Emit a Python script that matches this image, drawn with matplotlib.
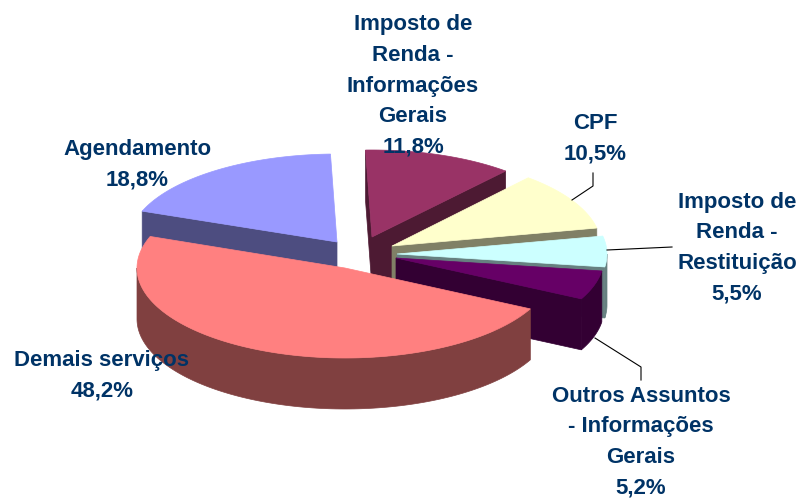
import matplotlib
matplotlib.use("Agg")
import matplotlib.pyplot as plt
import numpy as np

categories = ["Imposto de\nRenda -\nInformações\nGerais", "CPF", "Imposto de\nRenda -\nRestituição",
              "Outros Assuntos\n- Informações\nGerais", "Demais serviços", "Agendamento"]
values = [11.8, 10.5, 5.5, 5.2, 48.2, 18.8]
top_colors = ["#993366", "#FFFFCC", "#CCFFFF", "#660066", "#FF8080", "#9999FF"]
side_colors = ["#4D1A33", "#808066", "#668080", "#330033", "#804040", "#4D4D80"]

# each slice is pulled out on its own: apex x, apex y, rx, ry
slice_geom = [(372, 237, 205, 87), (392, 246, 209, 90), (397, 254, 210, 90),
              (396, 258, 208, 90), (345, 268, 208, 90), (337, 242, 208, 88)]
depth = 51
start_angle = -1.8
draw_order = [5, 0, 1, 2, 3, 4]

label_pos = [(413, 86), (595, 139), (737, 248), (641, 442), (102, 376), (137, 165)]
leaders = [([593, 593, 572], [173, 186, 200]), ([607, 672], [250, 247]), ([595, 641, 641], [338, 367, 380])]

plt.rcParams["font.family"] = ["Liberation Sans", "DejaVu Sans"]

fig = plt.figure(figsize=(8.02, 4.98), dpi=100)
ax = fig.add_axes([0, 0, 1, 1])
ax.set_xlim(0, 802)
ax.set_ylim(498, 0)
ax.axis("off")

edges = start_angle + np.cumsum([0] + values) * 3.6


def rim_xy(geom, deg):
    cx, cy, rx, ry = geom
    t = np.radians(deg)
    return cx + rx * np.sin(t), cy - ry * np.cos(t)


for n, i in enumerate(draw_order):
    geom = slice_geom[i]
    a0, a1 = edges[i], edges[i + 1]
    cx, cy = geom[0], geom[1]

    # outer wall, only the part that faces the viewer
    lo, hi = max(a0, 90), min(a1, 270)
    if hi > lo:
        x, y = rim_xy(geom, np.linspace(lo, hi, 120))
        ax.fill(np.r_[x, x[::-1]], np.r_[y, (y + depth)[::-1]], color=side_colors[i], lw=0.5, zorder=n)

    # cut faces
    for a, sign in ((a0, -1), (a1, 1)):
        if sign * np.sin(np.radians(a)) > 0:
            x, y = rim_xy(geom, a)
            ax.fill([cx, x, x, cx], [cy, y, y + depth, cy + depth], color=side_colors[i], lw=0.5, zorder=n)

    x, y = rim_xy(geom, np.linspace(a0, a1, 200))
    ax.fill(np.r_[cx, x], np.r_[cy, y], color=top_colors[i], lw=0.5, zorder=n)

for lx, ly in leaders:
    ax.plot(lx, ly, color="black", lw=0.8, zorder=10)

for name, val, (tx, ty) in zip(categories, values, label_pos):
    txt = name + "\n" + f"{val:.1f}".replace(".", ",") + "%"
    ax.text(tx, ty, txt, ha="center", va="center", ma="center", fontsize=16, fontweight="bold",
            color="#003366", linespacing=1.6, zorder=11)

fig.savefig("out.png", dpi=100)
